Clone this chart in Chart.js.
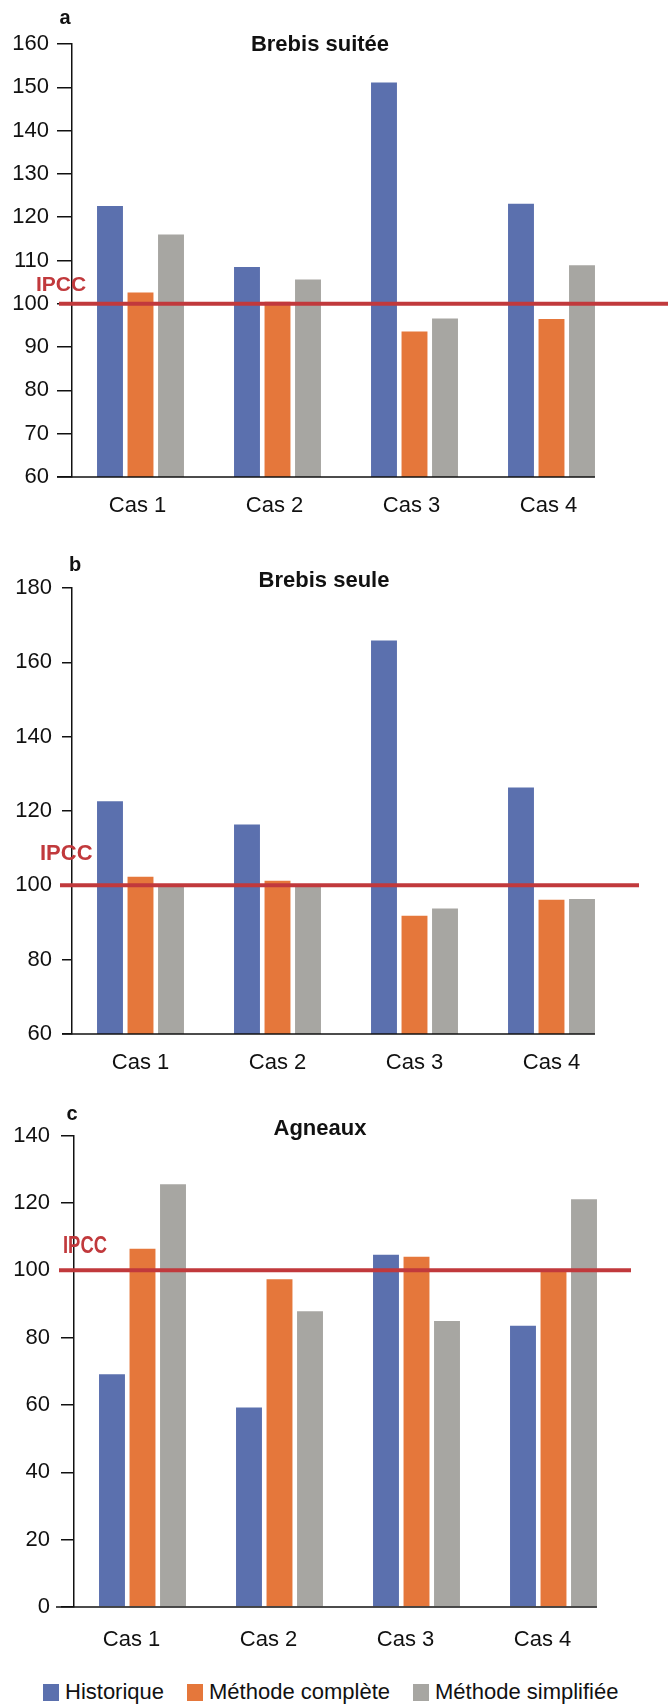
<!DOCTYPE html>
<html>
<head>
<meta charset="utf-8">
<script src="https://cdn.jsdelivr.net/npm/chart.js@4.4.1/dist/chart.umd.min.js"></script>
<style>
  html, body { margin: 0; padding: 0; background: #fff; }
  body { width: 668px; height: 1704px; position: relative; overflow: hidden;
         font-family: 'Liberation Sans', Arial, sans-serif; }
  canvas { position: absolute; left: 0; }
  #legend { position: absolute; left: 43px; top: 1679px; display: flex; align-items: center;
            font-size: 22px; color: #111; white-space: nowrap; }
  .item { display: flex; align-items: center; margin-right: 23px; }
  .box { width: 16px; height: 17px; margin-right: 6px; }
</style>
</head>
<body>
<canvas id="chartA" width="668" height="525" style="top:0"></canvas>
<canvas id="chartB" width="668" height="542" style="top:540px"></canvas>
<canvas id="chartC" width="668" height="565" style="top:1090px"></canvas>
<div id="legend"></div>

<script>
// Categories and series
const CATEGORIES = ['Cas 1', 'Cas 2', 'Cas 3', 'Cas 4'];
const SERIES_NAMES = ['Historique', 'Méthode complète', 'Méthode simplifiée'];
const SERIES_COLORS = ['#5b70ae', '#e5773b', '#a7a6a2'];

// a - Brebis suitée
const A_HISTORIQUE = [122.6, 108.5, 151.1, 123.1];
const A_COMPLETE = [102.6, 100.5, 93.6, 96.5];
const A_SIMPLIFIEE = [116.0, 105.6, 96.6, 108.9];
const A_TICKS = [60, 70, 80, 90, 100, 110, 120, 130, 140, 150, 160];

// b - Brebis seule
const B_HISTORIQUE = [122.6, 116.4, 165.9, 126.3];
const B_COMPLETE = [102.3, 101.2, 91.8, 96.1];
const B_SIMPLIFIEE = [100.2, 100.2, 93.8, 96.3];
const B_TICKS = [60, 80, 100, 120, 140, 160, 180];

// c - Agneaux
const C_HISTORIQUE = [69.1, 59.2, 104.6, 83.5];
const C_COMPLETE = [106.4, 97.3, 104.0, 99.7];
const C_SIMPLIFIEE = [125.5, 87.8, 84.9, 121.1];
const C_TICKS = [0, 20, 40, 60, 80, 100, 120, 140];

// IPCC reference level
const IPCC_VALUE = 100;
const IPCC_LABEL = 'IPCC';
const IPCC_COLOR = '#c1393c';

const FONT = "'Liberation Sans', Arial, sans-serif";
Chart.defaults.font.family = FONT;
Chart.defaults.color = '#111';

/**
 * Draws the x axis line, the IPCC line with its label, the title and the panel letter
 */
const decorPlugin = {
  id: 'decor',
  afterDatasetsDraw(chart, args, opts) {
    const ctx = chart.ctx;
    const y = chart.scales.y;

    ctx.save();
    // x axis stops at the end of the last bar
    const lastMeta = chart.getDatasetMeta(chart.data.datasets.length - 1);
    const lastBar = lastMeta.data[lastMeta.data.length - 1];
    ctx.strokeStyle = '#111';
    ctx.lineWidth = 1.5;
    ctx.beginPath();
    ctx.moveTo(opts.axisStart, y.bottom);
    ctx.lineTo(lastBar.x + lastBar.width / 2, y.bottom);
    ctx.stroke();

    // IPCC line
    const yRef = y.getPixelForValue(IPCC_VALUE);
    ctx.strokeStyle = IPCC_COLOR;
    ctx.lineWidth = 4;
    ctx.beginPath();
    ctx.moveTo(opts.refStart, yRef);
    ctx.lineTo(opts.refEnd, yRef);
    ctx.stroke();

    ctx.fillStyle = IPCC_COLOR;
    ctx.font = 'bold ' + opts.labelSize + 'px ' + FONT;
    ctx.textAlign = 'left';
    ctx.textBaseline = 'middle';
    ctx.save();
    ctx.translate(opts.labelX, yRef - opts.labelDy);
    ctx.scale(opts.labelScaleX || 1, 1);
    ctx.fillText(IPCC_LABEL, 0, 0);
    ctx.restore();

    // title and panel letter
    ctx.fillStyle = '#111';
    ctx.textAlign = 'center';
    ctx.font = 'bold 22px ' + FONT;
    ctx.fillText(opts.title, opts.titleX, opts.titleY);
    ctx.font = 'bold 20px ' + FONT;
    ctx.fillText(opts.letter, opts.letterX, opts.letterY);
    ctx.restore();
  }
};

function createPanel(canvasId, series, ticks, layout, decor) {
  const ctx = document.getElementById(canvasId);
  if (!ctx) return null;

  const datasets = series.map((data, i) => ({
    label: SERIES_NAMES[i],
    data: data,
    backgroundColor: SERIES_COLORS[i],
    borderWidth: 0,
    categoryPercentage: 0.668,
    barPercentage: 0.85
  }));

  return new Chart(ctx, {
    type: 'bar',
    data: { labels: CATEGORIES, datasets: datasets },
    plugins: [decorPlugin],
    options: {
      responsive: false,
      animation: false,
      layout: { padding: { top: layout.top, right: layout.right, bottom: 0, left: 0 } },
      plugins: {
        legend: { display: false },
        tooltip: { enabled: false },
        decor: decor
      },
      scales: {
        x: {
          grid: { display: false, drawTicks: false },
          border: { display: false },
          ticks: {
            font: { size: 22 },
            padding: layout.labelPad,
            labelOffset: layout.labelOffset,
            maxRotation: 0
          },
          afterFit(scale) {
            scale.height = 48;
            scale.paddingLeft = 0;
            scale.paddingRight = 0;
          }
        },
        y: {
          min: ticks[0],
          max: ticks[ticks.length - 1],
          grid: {
            drawOnChartArea: false,
            drawTicks: true,
            tickLength: layout.tickLength,
            color: '#111',
            lineWidth: 1.5
          },
          border: { display: true, color: '#111', width: 1.5 },
          ticks: {
            stepSize: ticks[1] - ticks[0],
            font: { size: 22 },
            padding: layout.tickPad,
            autoSkip: false
          },
          afterFit(scale) {
            scale.width = layout.left;
            scale.paddingTop = 0;
            scale.paddingBottom = 0;
          }
        }
      }
    }
  });
}

createPanel('chartA', [A_HISTORIQUE, A_COMPLETE, A_SIMPLIFIEE], A_TICKS,
  { top: 44, right: 48, left: 72, tickLength: 15, tickPad: 8, labelPad: 16, labelOffset: -3 },
  { axisStart: 57, refStart: 59, refEnd: 668, labelX: 36, labelDy: 19, labelSize: 21,
    title: 'Brebis suitée', titleX: 320, titleY: 45, letter: 'a', letterX: 65, letterY: 18 });

createPanel('chartB', [B_HISTORIQUE, B_COMPLETE, B_SIMPLIFIEE], B_TICKS,
  { top: 48, right: 48, left: 72, tickLength: 10, tickPad: 10, labelPad: 16, labelOffset: 0 },
  { axisStart: 62, refStart: 60, refEnd: 639, labelX: 40, labelDy: 31, labelSize: 22,
    title: 'Brebis seule', titleX: 324, titleY: 41, letter: 'b', letterX: 75, letterY: 25 });

createPanel('chartC', [C_HISTORIQUE, C_COMPLETE, C_SIMPLIFIEE], C_TICKS,
  { top: 45.5, right: 46, left: 74, tickLength: 13, tickPad: 11, labelPad: 20, labelOffset: -11 },
  { axisStart: 56, refStart: 59, refEnd: 631, labelX: 63, labelDy: 24, labelSize: 23, labelScaleX: 0.8,
    title: 'Agneaux', titleX: 320, titleY: 39, letter: 'c', letterX: 72, letterY: 24 });

// Legend shared by the three panels
const legend = document.getElementById('legend');
SERIES_NAMES.forEach((name, i) => {
  const item = document.createElement('div');
  item.className = 'item';
  const box = document.createElement('span');
  box.className = 'box';
  box.style.background = SERIES_COLORS[i];
  const text = document.createElement('span');
  text.textContent = name;
  item.appendChild(box);
  item.appendChild(text);
  legend.appendChild(item);
});
</script>
</body>
</html>
